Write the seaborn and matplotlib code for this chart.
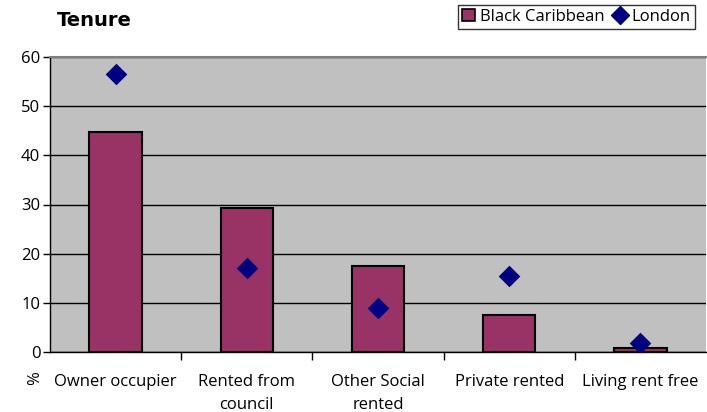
import matplotlib
matplotlib.use('Agg')
import matplotlib.pyplot as plt
from matplotlib.lines import Line2D
from matplotlib.patches import Patch
from matplotlib.ticker import FixedLocator
import seaborn as sns
import pandas as pd

categories = ['Owner occupier', 'Rented from\ncouncil', 'Other Social\nrented',
              'Private rented', 'Living rent free']
black_caribbean = [44.7, 29.3, 17.5, 7.5, 0.9]
london = [56.5, 17.1, 8.9, 15.5, 1.9]

df = pd.DataFrame({'tenure': categories,
                   'Black Caribbean': black_caribbean,
                   'London': london})

BAR = '#993366'
DIAMOND = '#000080'
GREY = '#C0C0C0'

sns.set_theme(style='white')
plt.rcParams['font.family'] = ['Open Sans', 'DejaVu Sans']
plt.rcParams['text.color'] = 'black'

fig = plt.figure(figsize=(7.07, 4.12), dpi=100)
ax = fig.add_axes([50 / 707, 60 / 412, 656 / 707, 295 / 412])
ax.set_facecolor(GREY)

sns.barplot(data=df, x='tenure', y='Black Caribbean', color=BAR,
            width=0.4, edgecolor='black', linewidth=1.5, saturation=1, ax=ax,
            zorder=3)
sns.stripplot(data=df, x='tenure', y='London', color=DIAMOND, marker='D',
              size=11, jitter=False, ax=ax, zorder=4)

ax.set_xlim(-0.5, 4.5)
ax.set_ylim(0, 60)
ax.set_yticks(range(0, 61, 10))
ax.yaxis.grid(True, color='black', linewidth=1)
ax.set_axisbelow(True)
ax.set_xlabel('')
ax.set_ylabel('')

# tick marks between categories, labels centred without ticks
ax.xaxis.set_minor_locator(FixedLocator([0.5, 1.5, 2.5, 3.5]))
ax.tick_params(axis='x', which='major', length=0, labelsize=12, pad=16,
               colors='black')
ax.tick_params(axis='x', which='minor', length=6, width=1, color='black',
               bottom=True, direction='out')
ax.tick_params(axis='y', length=5, width=1, color='black', left=True,
               labelsize=12, labelcolor='black', pad=2)
for lbl in ax.get_xticklabels():
    lbl.set_linespacing(1.55)

for side in ['left', 'bottom']:
    ax.spines[side].set_color('black')
    ax.spines[side].set_linewidth(1)
ax.spines['top'].set_color('#808080')
ax.spines['top'].set_linewidth(1.5)
ax.spines['right'].set_visible(False)

fig.text(57 / 707, 1 - 21 / 412, 'Tenure', fontsize=14, fontweight='bold',
         family='DejaVu Sans', color='black', ha='left', va='center')
fig.text(35 / 707, 1 - 378 / 412, '%', fontsize=12, rotation=90,
         color='black', ha='center', va='center')

handles = [Patch(facecolor=BAR, edgecolor='black', linewidth=1.2),
           Line2D([], [], linestyle='none', marker='D', color=DIAMOND,
                  markersize=9)]
leg = fig.legend(handles, ['Black Caribbean', 'London'], ncol=2,
                 loc='upper right', bbox_to_anchor=(695 / 707, 1 - 5 / 412),
                 fontsize=12, frameon=True, fancybox=False, borderpad=0.25,
                 handlelength=0.75, handleheight=0.75, handletextpad=0.3,
                 columnspacing=0.6, borderaxespad=0, labelcolor='black')
leg.get_frame().set_edgecolor('black')
leg.get_frame().set_linewidth(1)

fig.savefig('out.png', dpi=100)
